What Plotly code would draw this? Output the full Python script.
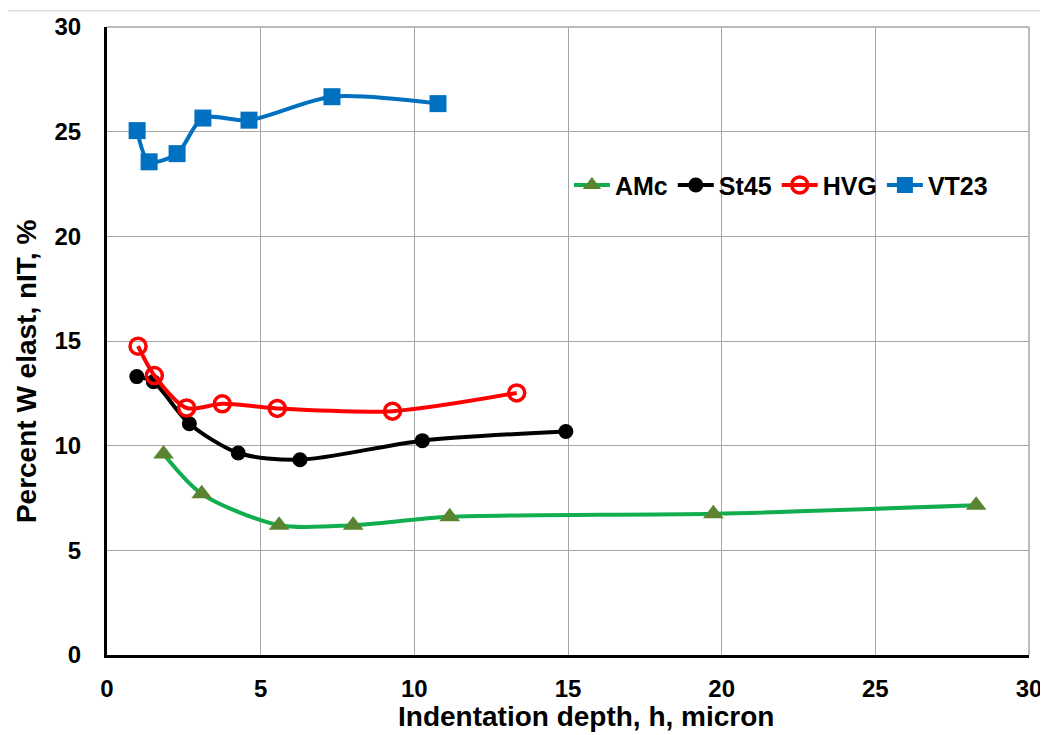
import plotly.graph_objects as go

# Data
amc_x = [1.84, 3.08, 5.60, 8.01, 11.15, 19.73, 28.28]
amc_y = [9.6, 7.7, 6.2, 6.2, 6.6, 6.75, 7.15]

st45_x = [0.97, 1.51, 2.68, 4.27, 6.28, 10.26, 14.93]
st45_y = [13.3, 13.05, 11.05, 9.65, 9.33, 10.24, 10.68]

hvg_x = [1.01, 1.54, 2.59, 3.75, 5.54, 9.29, 13.33]
hvg_y = [14.75, 13.35, 11.8, 12.0, 11.78, 11.65, 12.52]

vt23_x = [0.98, 1.37, 2.28, 3.12, 4.62, 7.32, 10.77]
vt23_y = [25.05, 23.56, 23.95, 25.65, 25.55, 26.67, 26.34]

x_ticks = [0, 5, 10, 15, 20, 25, 30]
y_ticks = [0, 5, 10, 15, 20, 25, 30]

x_title = "Indentation depth, h, micron"
y_title = "Percent W elast, nIT, %"

FONT = "Arial, Liberation Sans, sans-serif"

fig = go.Figure()
fig.add_trace(go.Scatter(
    x=amc_x, y=amc_y, name="AMc", mode="lines+markers",
    line=dict(color="#12AD4E", width=4, shape="spline", smoothing=0.8),
    marker=dict(symbol="triangle-up", size=18, color="#5B8431"),
))
fig.add_trace(go.Scatter(
    x=st45_x, y=st45_y, name="St45", mode="lines+markers",
    line=dict(color="#000000", width=4, shape="spline", smoothing=0.8),
    marker=dict(symbol="circle", size=15, color="#000000"),
))
fig.add_trace(go.Scatter(
    x=hvg_x, y=hvg_y, name="HVG", mode="lines+markers",
    line=dict(color="#FF0000", width=4, shape="spline", smoothing=0.8),
    marker=dict(symbol="circle-open", size=16, color="#FF0000", line=dict(width=3.5)),
))
fig.add_trace(go.Scatter(
    x=vt23_x, y=vt23_y, name="VT23", mode="lines+markers",
    line=dict(color="#0070C0", width=4, shape="spline", smoothing=0.8),
    marker=dict(symbol="square", size=17, color="#0070C0"),
))

fig.update_layout(
    width=1040, height=727,
    margin=dict(l=99, r=19, t=19, b=80),
    paper_bgcolor="white", plot_bgcolor="white",
    font=dict(family=FONT, size=20, color="black"),
    showlegend=True,
    legend=dict(
        orientation="h", x=0.501, y=0.748, xanchor="left", yanchor="middle",
        font=dict(family=FONT, size=25, color="black", weight="bold"),
        bgcolor="rgba(0,0,0,0)", itemwidth=36, tracegroupgap=0,
    ),
    xaxis=dict(
        range=[0, 30], tickvals=x_ticks, showgrid=True, gridcolor="#A6A6A6", gridwidth=1,
        zeroline=False, showline=True, linecolor="black", linewidth=3, mirror=False,
        automargin=False, ticks="", ticklabelstandoff=10,
        tickfont=dict(family=FONT, size=24, weight="bold"),
    ),
    yaxis=dict(
        range=[0, 30], tickvals=y_ticks, showgrid=True, gridcolor="#A6A6A6", gridwidth=1,
        zeroline=False, showline=True, linecolor="black", linewidth=3, mirror=False,
        automargin=False, ticks="", ticklabelstandoff=18,
        tickfont=dict(family=FONT, size=24, weight="bold"),
    ),
    annotations=[
        dict(text=x_title, xref="paper", yref="paper", x=0.5195, y=-0.0987,
             xanchor="center", yanchor="middle", showarrow=False,
             font=dict(family=FONT, size=28, weight="bold", color="black")),
        dict(text=y_title, xref="paper", yref="paper", x=-0.0879, y=0.452,
             xanchor="center", yanchor="middle", showarrow=False, textangle=-90,
             font=dict(family=FONT, size=28, weight="bold", color="black")),
    ],
    shapes=[
        dict(type="line", xref="paper", yref="paper", x0=0, x1=1, y0=1, y1=1,
             line=dict(color="#A6A6A6", width=1.5)),
        dict(type="line", xref="paper", yref="paper", x0=1, x1=1, y0=0, y1=1,
             line=dict(color="#A6A6A6", width=1.5)),
        dict(type="line", xref="paper", yref="paper", x0=-0.108, x1=1.021,
             y0=1.026, y1=1.026, line=dict(color="#DDDDDD", width=1.5)),
    ],
)

fig.write_html("out.html")
